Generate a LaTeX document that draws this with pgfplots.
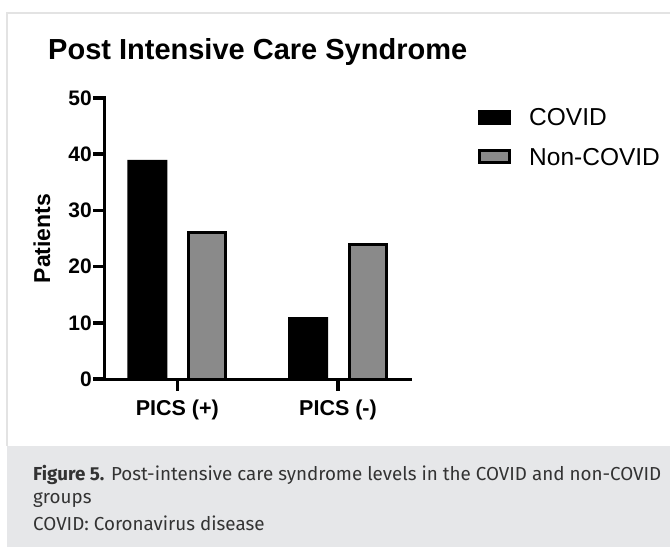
\documentclass[border=0pt]{standalone}
\usepackage{fontspec}
\setmainfont{Liberation Sans}
\newfontfamily\capfont{Fira Sans}
\usepackage{pgfplots}
\pgfplotsset{compat=1.18}
\definecolor{capbg}{HTML}{E6E7E9}
\definecolor{captxt}{HTML}{333333}
\definecolor{bordergray}{HTML}{E3E3E3}
\definecolor{barg}{HTML}{8A8A8A}
\begin{document}
\begin{tikzpicture}[x=1pt,y=1pt]
\path[use as bounding box] (0,0) rectangle (670,547);
\fill[capbg] (7,0) rectangle (670,101);
\draw[bordergray, line width=2pt] (7,101) -- (7,534) -- (671,534);
\node[anchor=base west, inner sep=0pt, font=\fontsize{29}{34}\selectfont\bfseries] at (48,487.7) {Post Intensive Care Syndrome};
\begin{axis}[
  at={(105pt,168pt)}, anchor=south west,
  scale only axis, width=305pt, height=281pt,
  xmin=-0.45, xmax=1.448, ymin=0, ymax=50,
  clip=false,
  axis lines*=left,
  axis line style={line width=3pt, line cap=rect},
  ytick={0,10,20,30,40,50},
  xtick={0,1},
  xticklabels={PICS (+),PICS (-)},
  tick align=outside,
  major tick length=11.5pt,
  tick style={black, line width=3.5pt},
  /pgf/number format/assume math mode=true,
  yticklabel style={font=\fontsize{21}{21}\selectfont\bfseries, inner sep=1.5pt},
  xticklabel style={font=\fontsize{21.5}{21.5}\selectfont\bfseries, inner sep=0pt, yshift=-9pt},
  ylabel={Patients},
  ylabel style={font=\fontsize{23}{23}\selectfont\bfseries, at={(axis description cs:-0.2066,0.5)}, anchor=center},
  legend style={at={(axis description cs:1.223,0.9633)}, anchor=north west, draw=none, fill=none, inner sep=0pt,
    font=\fontsize{24.5}{24.5}\selectfont, nodes={inner sep=0pt}, column sep=18pt, row sep=21pt},
  legend cell align=left,
]
\addplot[ybar, bar width=40pt, bar shift=-30pt, fill=black, draw=none,
  legend image code/.code={\fill[black] (0pt,-7pt) rectangle (33pt,8pt);}]
  coordinates {(0,39) (1,11)};
\addlegendentry{COVID}
\addplot[ybar, bar width=37pt, bar shift=30pt, fill=barg, draw=black, line width=3pt,
  legend image code/.code={\draw[black, fill=barg, line width=3pt] (1.5pt,-5.5pt) rectangle (31.5pt,6.5pt);}]
  coordinates {(0,26) (1,24)};
\addlegendentry{Non-COVID}
\pgfplotsinvokeforeach{0,10,20,30,40,50}{
  \fill[black] ([yshift=-1.75pt]axis cs:-0.45,#1) rectangle ([xshift=-12pt,yshift=1.75pt]axis cs:-0.45,#1);
}
\pgfplotsinvokeforeach{0,1}{
  \fill[black] ([xshift=-1.75pt]axis cs:#1,0) rectangle ([xshift=1.75pt,yshift=-11.5pt]axis cs:#1,0);
}
\end{axis}
\node[anchor=base west, inner sep=0pt, font=\capfont\fontsize{18.8}{20}\selectfont, text=captxt] at (33,67) {\textbf{Figure 5.} Post-intensive care syndrome levels in the COVID and non-COVID};
\node[anchor=base west, inner sep=0pt, font=\capfont\fontsize{18.8}{20}\selectfont, text=captxt] at (33,44) {groups};
\node[anchor=base west, inner sep=0pt, font=\capfont\fontsize{18.8}{20}\selectfont, text=captxt] at (33,17) {COVID: Coronavirus disease};
\end{tikzpicture}
\end{document}
